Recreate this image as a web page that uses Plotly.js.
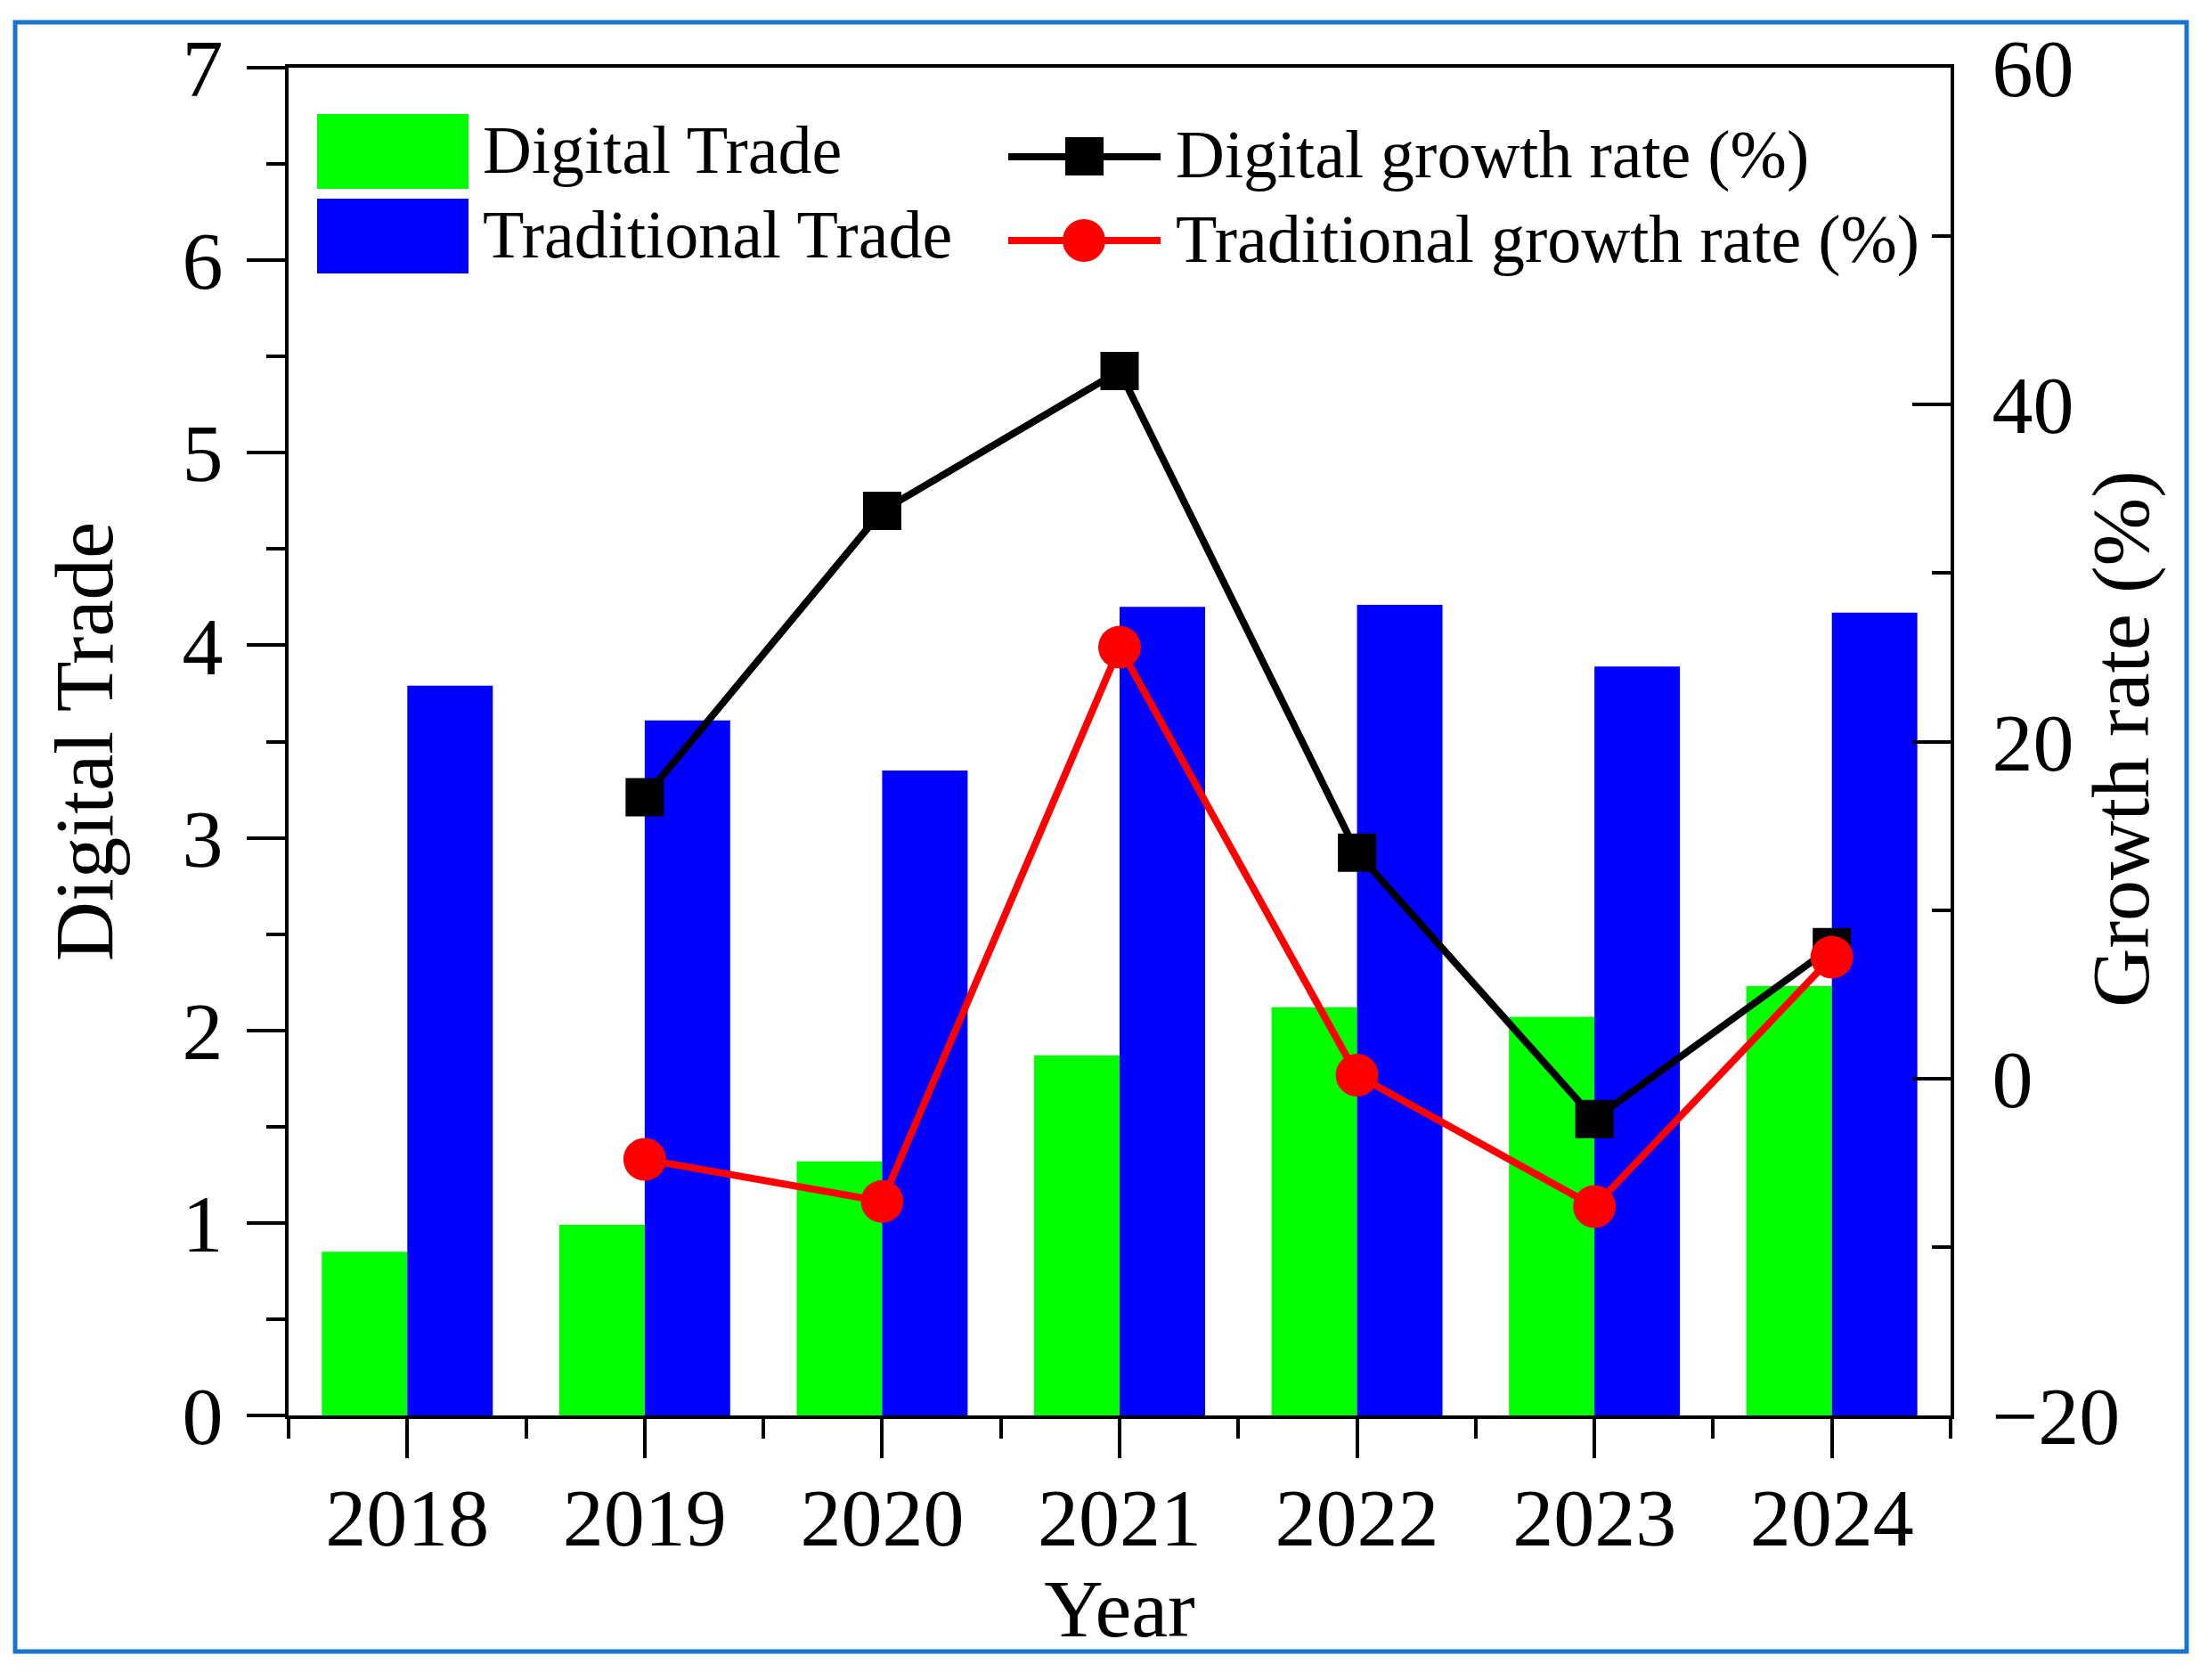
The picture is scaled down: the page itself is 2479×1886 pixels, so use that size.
<!DOCTYPE html>
<html>
<head>
<meta charset="utf-8">
<script src="https://cdn.plot.ly/plotly-3.0.1.min.js"></script>
<style>
  body { margin: 0; background: #fff; }
  #chart { width: 2479px; height: 1886px; }
</style>
</head>
<body>
<div id="chart"></div>
<script>
// values
var years = [2018, 2019, 2020, 2021, 2022, 2023, 2024];
var digitalTrade = [0.85, 0.99, 1.32, 1.87, 2.12, 2.07, 2.23];
var traditionalTrade = [3.79, 3.61, 3.35, 4.20, 4.21, 3.89, 4.17];

var growthYears = [2019, 2020, 2021, 2022, 2023, 2024];
var digitalGrowth = [16.7, 33.7, 42.0, 13.4, -2.4, 7.8];
var traditionalGrowth = [-4.8, -7.3, 25.6, 0.2, -7.6, 7.2];

var legendNames = ['Digital Trade', 'Traditional Trade',
                   'Digital growth rate (%)', 'Traditional growth rate (%)'];

var serif = '"Liberation Serif", "Times New Roman", serif';

// plot area in page pixels
var L = 324, R = 2190, T = 76, B = 1589;
function px(x) { return (x - L) / (R - L); }
function py(y) { return (B - y) / (B - T); }

var bars1 = {
  x: years,
  y: digitalTrade,
  name: legendNames[0],
  type: 'bar',
  marker: {color: '#00FF00'},
};

var bars2 = {
  x: years,
  y: traditionalTrade,
  name: legendNames[1],
  type: 'bar',
  marker: {color: '#0000FF'},
};

var line1 = {
  x: growthYears,
  y: digitalGrowth,
  name: legendNames[2],
  yaxis: 'y2',
  mode: 'lines+markers',
  type: 'scatter',
  line: {color: '#000000', width: 8},
  marker: {color: '#000000', size: 43, symbol: 'square'},
};

var line2 = {
  x: growthYears,
  y: traditionalGrowth,
  name: legendNames[3],
  yaxis: 'y2',
  mode: 'lines+markers',
  type: 'scatter',
  line: {color: '#FF0000', width: 8},
  marker: {color: '#FF0000', size: 48, symbol: 'circle'},
};

// hand-made legend (big swatches like the original)
var shapes = [
  {type: 'rect', xref: 'paper', yref: 'paper',
   x0: px(17), x1: px(2455), y0: py(1854), y1: py(25),
   line: {color: '#1874CD', width: 5}},
  {type: 'rect', xref: 'paper', yref: 'paper',
   x0: px(356), x1: px(526), y0: py(212), y1: py(128),
   fillcolor: '#00FF00', line: {width: 0}},
  {type: 'rect', xref: 'paper', yref: 'paper',
   x0: px(356), x1: px(526), y0: py(307), y1: py(223),
   fillcolor: '#0000FF', line: {width: 0}},
  {type: 'line', xref: 'paper', yref: 'paper',
   x0: px(1132), x1: px(1303), y0: py(176), y1: py(176),
   line: {color: '#000000', width: 8}},
  {type: 'rect', xref: 'paper', yref: 'paper',
   x0: px(1196), x1: px(1239), y0: py(197), y1: py(154),
   fillcolor: '#000000', line: {width: 0}},
  {type: 'line', xref: 'paper', yref: 'paper',
   x0: px(1132), x1: px(1303), y0: py(270), y1: py(270),
   line: {color: '#FF0000', width: 8}},
  {type: 'circle', xref: 'paper', yref: 'paper',
   x0: px(1193), x1: px(1241), y0: py(294), y1: py(246),
   fillcolor: '#FF0000', line: {width: 0}},
];

function legendText(i, x, y) {
  return {text: legendNames[i], xref: 'paper', yref: 'paper',
          x: px(x), y: py(y), xanchor: 'left', yanchor: 'middle',
          showarrow: false, font: {family: serif, size: 76, color: '#000'}};
}

var annotations = [
  legendText(0, 540, 168),
  legendText(1, 540, 263),
  legendText(2, 1318, 173),
  legendText(3, 1318, 268),
  {text: 'Growth rate (%)', xref: 'paper', yref: 'paper',
   x: px(2381), y: py(830), xanchor: 'center', yanchor: 'middle',
   textangle: -90, showarrow: false,
   font: {family: serif, size: 92, color: '#000'}},
];

var layout = {
  width: 2479,
  height: 1886,
  margin: {l: L, r: 2479 - R, t: T, b: 1886 - B, pad: 0},
  paper_bgcolor: '#FFFFFF',
  plot_bgcolor: '#FFFFFF',
  showlegend: false,
  barmode: 'group',
  bargap: 0.28,
  bargroupgap: 0,
  font: {family: serif, color: '#000'},
  xaxis: {
    range: [2017.5, 2024.5],
    tickvals: years,
    tickformat: 'd',
    showgrid: false,
    zeroline: false,
    showline: true, linecolor: '#000', linewidth: 4, mirror: true,
    ticks: 'outside', ticklen: 44, tickwidth: 4, tickcolor: '#000',
    minor: {dtick: 0.5, tick0: 2017.5, ticks: 'outside', ticklen: 22, tickwidth: 4, tickcolor: '#000', showgrid: false},
    tickfont: {family: serif, size: 92},
    ticklabelstandoff: -12,
    title: {text: 'Year', font: {family: serif, size: 92}, standoff: 0},
  },
  yaxis: {
    range: [0, 7],
    dtick: 1,
    showgrid: false,
    zeroline: false,
    showline: true, linecolor: '#000', linewidth: 4,
    ticks: 'outside', ticklen: 43, tickwidth: 4, tickcolor: '#000',
    minor: {dtick: 0.5, ticks: 'outside', ticklen: 21, tickwidth: 4, tickcolor: '#000', showgrid: false},
    tickfont: {family: serif, size: 92},
    ticklabelstandoff: 8,
    title: {text: 'Digital Trade', font: {family: serif, size: 93}, standoff: 48},
  },
  yaxis2: {
    overlaying: 'y',
    side: 'right',
    range: [-20, 60],
    dtick: 20,
    showgrid: false,
    zeroline: false,
    showline: true, linecolor: '#000', linewidth: 4,
    ticks: 'inside', ticklen: 43, tickwidth: 4, tickcolor: '#000',
    minor: {dtick: 10, ticks: 'inside', ticklen: 21, tickwidth: 4, tickcolor: '#000', showgrid: false},
    tickfont: {family: serif, size: 92},
    ticklabelstandoff: 24,
  },
  shapes: shapes,
  annotations: annotations,
};

Plotly.newPlot('chart', [bars1, bars2, line1, line2], layout, {displayModeBar: false, staticPlot: true});
</script>
</body>
</html>
